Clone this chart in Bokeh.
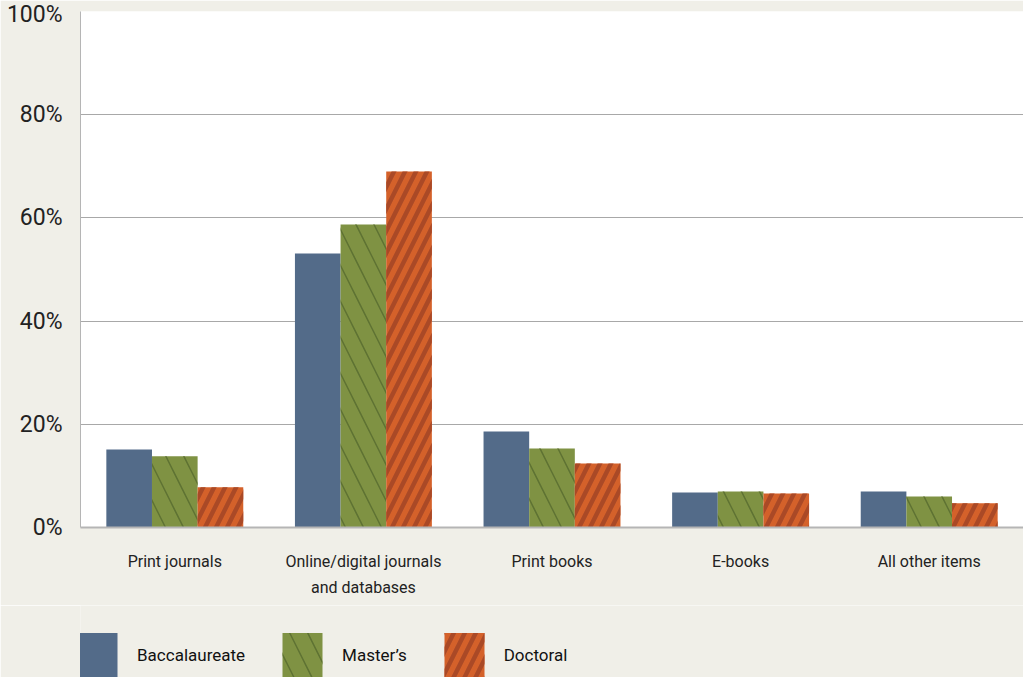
from bokeh.plotting import figure
from bokeh.layouts import column
from bokeh.models import (FactorRange, Range1d, FixedTicker, PrintfTickFormatter,
                          Legend, LegendItem, ColumnDataSource)
from bokeh.transform import dodge
from bokeh.embed import file_html
from bokeh.resources import INLINE

categories = ["Print journals", "Online/digital journals\nand databases",
              "Print books", "E-books", "All other items"]
baccalaureate = [15.1, 53.1, 18.6, 6.8, 7.0]
masters = [13.8, 58.7, 15.3, 7.0, 6.0]
doctoral = [7.8, 69.0, 12.4, 6.6, 4.7]
series_names = ["Baccalaureate", "Master\u2019s", "Doctoral"]
y_ticks = [0, 20, 40, 60, 80, 100]

FONT = "Roboto"
BG = "#F0EFE8"
W = 1023

styles = [
    dict(fill_color="#536B89", line_color=None),
    dict(fill_color="#7F9243", line_color=None, hatch_pattern="\\",
         hatch_color="#5E7232", hatch_weight=1.5, hatch_scale=36),
    dict(fill_color="#D4612A", line_color=None, hatch_pattern="/",
         hatch_color="#AA4926", hatch_weight=4.5, hatch_scale=22),
]

src = ColumnDataSource(dict(cat=categories, bac=baccalaureate, mas=masters, doc=doctoral))

p = figure(x_range=FactorRange(*categories), y_range=Range1d(0, 100),
           width=W, height=605, output_backend="svg", toolbar_location=None,
           min_border_left=80, min_border_top=11, min_border_right=0, min_border_bottom=78)
p.background_fill_color = "white"
p.border_fill_color = BG
p.outline_line_color = None

bw = 0.242
cols = ["bac", "mas", "doc"]
offs = [-bw, 0, bw]
for c, o, st in zip(cols, offs, styles):
    p.vbar(x=dodge("cat", o, range=p.x_range), top=c, width=bw, source=src, **st)

p.xgrid.grid_line_color = None
p.ygrid.grid_line_color = "#A8A8A8"
p.ygrid.grid_line_width = 1
p.yaxis.ticker = FixedTicker(ticks=y_ticks)
p.yaxis.formatter = PrintfTickFormatter(format="%d%%")

for ax in (p.xaxis[0], p.yaxis[0]):
    ax.axis_line_color = "#B5B5B5"
    ax.major_tick_line_color = None
    ax.minor_tick_line_color = None
    ax.major_label_text_font = FONT
    ax.major_label_text_color = "#222222"

p.xaxis.axis_line_width = 2
p.yaxis.axis_line_width = 1
p.yaxis.major_label_text_font_size = "23px"
p.yaxis.major_label_standoff = 12
p.xaxis.major_label_text_font_size = "16px"
p.xaxis.major_label_text_line_height = 1.4
p.xaxis.major_label_standoff = 18

# legend strip (its renderers sit outside the visible range; only their legend swatches show)
lg = figure(x_range=FactorRange(*categories), y_range=Range1d(1000, 1001), width=W, height=72,
            output_backend="svg", toolbar_location=None,
            min_border_left=0, min_border_right=0, min_border_top=0, min_border_bottom=0)
lg.axis.visible = False
lg.grid.visible = False
lg.outline_line_color = None
lg.background_fill_color = BG
lg.border_fill_color = BG
items = []
for name, c, st in zip(series_names, cols, styles):
    r = lg.vbar(x="cat", top=c, width=0.2, source=src, **st)
    items.append(LegendItem(label=name, renderers=[r], index=0))
legend = Legend(items=items, orientation="horizontal", location=(-8, -5),
                glyph_width=50, glyph_height=55, label_standoff=15, spacing=32,
                padding=0, margin=0, background_fill_alpha=0, border_line_color=None,
                label_text_font=FONT, label_text_font_size="17px", label_text_color="#111111")
lg.add_layout(legend, "center")

layout = column(p, lg, spacing=0)
open("out.html", "w").write(file_html(layout, INLINE))
